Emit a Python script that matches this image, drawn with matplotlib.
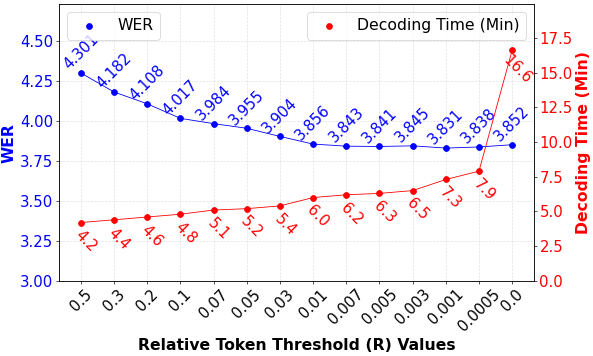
import matplotlib
matplotlib.use('Agg')
import matplotlib.pyplot as plt
from matplotlib.ticker import MultipleLocator

thresholds = ['0.5', '0.3', '0.2', '0.1', '0.07', '0.05', '0.03', '0.01',
              '0.007', '0.005', '0.003', '0.001', '0.0005', '0.0']
wer = [4.301, 4.182, 4.108, 4.017, 3.984, 3.955, 3.904, 3.856,
       3.843, 3.841, 3.845, 3.831, 3.838, 3.852]
dec_time = [4.2, 4.4, 4.6, 4.8, 5.1, 5.2, 5.4, 6.0, 6.2, 6.3, 6.5, 7.3, 7.9, 16.6]

x = list(range(len(thresholds)))

# drawn at 10x6 in, saved at a low dpi so the png is ~593x356 px
fig, ax1 = plt.subplots(figsize=(10, 6.004))
fig.subplots_adjust(left=0.100, right=0.900, top=0.988, bottom=0.211)

# WER on the left axis
ax1.plot(x, wer, color='blue', linewidth=1)
ax1.scatter(x, wer, color='blue', s=50, label='WER', zorder=3)
for i, v in enumerate(wer):
    ax1.annotate(f'{v}', (x[i], v), xytext=(0, 25.5), textcoords='offset points',
                 rotation=45, color='blue', fontsize=18, ha='center', va='center')
ax1.set_ylim(3.0, max(wer) * 1.1)
ax1.yaxis.set_major_locator(MultipleLocator(0.25))
ax1.set_ylabel('WER', color='blue', fontsize=19, fontweight='bold')
ax1.tick_params(axis='y', labelcolor='blue', labelsize=18)
ax1.set_xticks(x)
ax1.set_xticklabels(thresholds, rotation=45, fontsize=18)
ax1.set_xlabel('Relative Token Threshold (R) Values', fontsize=19, fontweight='bold')
ax1.grid(True, linestyle='--', color='lightgrey', alpha=0.7)
ax1.legend(loc='upper left', fontsize=19)

# decoding time on the right axis
ax2 = ax1.twinx()
ax2.plot(x, dec_time, color='red', linewidth=1)
ax2.scatter(x, dec_time, color='red', s=50, label='Decoding Time (Min)', zorder=3)
for i, v in enumerate(dec_time):
    ax2.annotate(f'{v}', (x[i], v), xytext=(6, -23), textcoords='offset points',
                 rotation=-45, color='red', fontsize=18, ha='center', va='center')
ax2.set_ylim(0, max(dec_time) * 1.2)
ax2.yaxis.set_major_locator(MultipleLocator(2.5))
ax2.set_ylabel('Decoding Time (Min)', color='red', fontsize=19, fontweight='bold')
ax2.tick_params(axis='y', labelcolor='red', labelsize=18)
ax2.legend(loc='upper right', fontsize=19)

plt.savefig('out.png', dpi=59.3)
